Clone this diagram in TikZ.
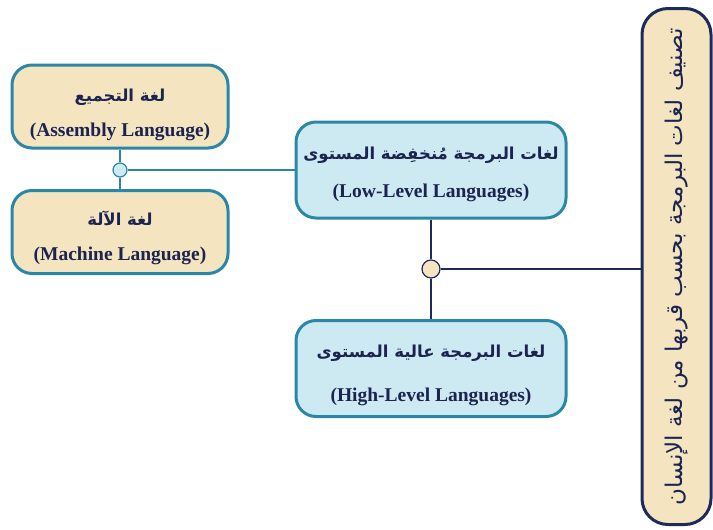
\documentclass[tikz,border=0pt]{standalone}
\usepackage{fontspec}
\setmainfont{Liberation Serif}
\newfontfamily\arabicfont[Script=Arabic]{DejaVu Sans}
\TeXXeTstate=1
\usetikzlibrary{shapes.misc}

\definecolor{navyline}{HTML}{1E2A5C}
\definecolor{navytext}{HTML}{1B2350}
\definecolor{tealline}{HTML}{2B87A6}
\definecolor{creamfill}{HTML}{F4E5C0}
\definecolor{bluefill}{HTML}{CDE9F2}

\newcommand{\arline}[1]{{\arabicfont\bfseries\fontsize{16.5}{19}\selectfont\beginR #1\endR}}
\newcommand{\enline}[1]{{\bfseries\fontsize{19.5}{22}\selectfont #1}}

\tikzset{
	langbox/.style={draw=tealline, line width=3pt, rounded corners=20pt, inner sep=0pt},
	lowlevel/.style={langbox, fill=creamfill, minimum width=216pt, minimum height=83pt},
	upperlevel/.style={langbox, fill=bluefill, minimum width=270pt, minimum height=96pt},
	boxtext/.style={text=navytext, inner sep=1pt},
	joint/.style={draw, circle, line width=1.2pt, inner sep=0pt}
}

\begin{document}
\begin{tikzpicture}[x=1pt,y=-1pt]
		\useasboundingbox (0,0) rectangle (713,530);
		% left column
		\node[lowlevel] (asm) at (120,106.5) {};
		\node[boxtext] (asm-ar) at ([yshift=9pt]asm.center) {\arline{لغة التجميع}};
		\node[boxtext] (asm-en) at ([yshift=-25pt]asm.center) {\enline{(Assembly Language)}};
		\node[lowlevel] (mach) at (120,232) {};
		\node[boxtext] (mach-ar) at ([yshift=14pt]mach.center) {\arline{لغة الآلة}};
		\node[boxtext] (mach-en) at ([yshift=-23.5pt]mach.center) {\enline{(Machine Language)}};
		% middle column
		\node[upperlevel] (low) at (431,170) {};
		\node[boxtext] (low-ar) at ([yshift=15pt]low.center) {\arline{لغات البرمجة مُنخفِضة المستوى}};
		\node[boxtext] (low-en) at ([yshift=-23pt]low.center) {\enline{(Low-Level Languages)}};
		\node[upperlevel] (high) at (431,368.5) {};
		\node[boxtext] (high-ar) at ([yshift=15pt]high.center) {\arline{لغات البرمجة عالية المستوى}};
		\node[boxtext] (high-en) at ([yshift=-28pt]high.center) {\enline{(High-Level Languages)}};
		% title
		\node[draw=navyline, fill=creamfill, line width=3pt, rounded corners=26pt, rotate=90,
			minimum width=516pt, minimum height=69pt, text=navytext] (title) at (676.5,266.5)
			{\arabicfont\fontsize{23}{26}\selectfont\beginR تصنيف لغات البرمجة بحسب قربها من لغة الإنسان\endR};
		% joints
		\node[joint, draw=tealline, fill=bluefill, minimum size=14pt] (jleft) at (120,170) {};
		\node[joint, draw=navyline, fill=creamfill, minimum size=18pt] (jright) at (431,269) {};
		\draw[tealline, line width=2pt] (asm) -- (jleft) -- (mach);
		\draw[tealline, line width=2pt] (jleft) -- (jleft -| low.west);
		\draw[navyline, line width=2pt] (low) -- (jright) -- (high);
		\draw[navyline, line width=2pt] (jright) -- (jright -| title.north);
	\end{tikzpicture}
\end{document}
